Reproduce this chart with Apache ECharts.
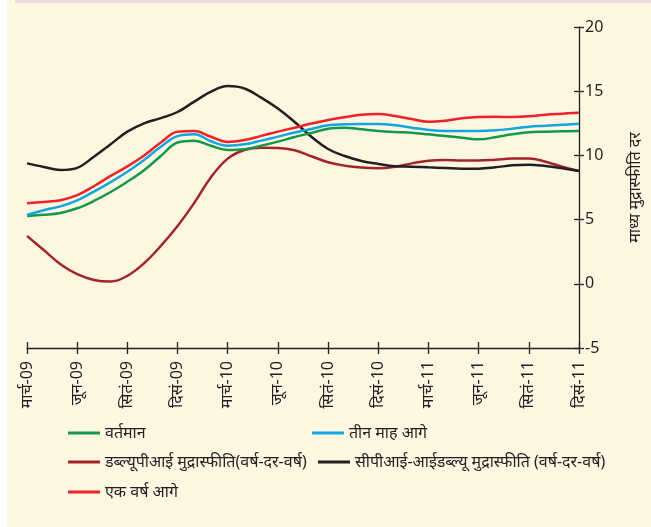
<!DOCTYPE html>
<html>
<head>
<meta charset="utf-8">
<title>मुद्रास्फीति प्रत्याशाएँ</title>
<script src="https://cdn.jsdelivr.net/npm/echarts@6.0.0/dist/echarts.min.js"></script>
<style>
  html, body { margin: 0; padding: 0; background: #ffffff; }
  #chart { width: 651px; height: 527px; }
</style>
</head>
<body>
<div id="chart"></div>
<script>
// monthly, मार्च-09 .. दिसं-11
const months = [
  'मार्च-09', 'अप्रैल-09', 'मई-09', 'जून-09', 'जुलाई-09', 'अग-09', 'सितं-09', 'अक्टू-09', 'नवं-09', 'दिसं-09',
  'जन-10', 'फर-10', 'मार्च-10', 'अप्रैल-10', 'मई-10', 'जून-10', 'जुलाई-10', 'अग-10', 'सितं-10', 'अक्टू-10', 'नवं-10', 'दिसं-10',
  'जन-11', 'फर-11', 'मार्च-11', 'अप्रैल-11', 'मई-11', 'जून-11', 'जुलाई-11', 'अग-11', 'सितं-11', 'अक्टू-11', 'नवं-11', 'दिसं-11'
]

const current = [5.28, 5.37, 5.52, 5.88, 6.45, 7.15, 7.95, 8.85, 9.95, 11.0, 11.15, 10.75,
  10.42, 10.48, 10.75, 11.07, 11.43, 11.75, 12.08, 12.16, 12.03, 11.9,
  11.82, 11.77, 11.64, 11.51, 11.38, 11.25, 11.41, 11.64, 11.8, 11.85, 11.88, 11.9]

const threeMonth = [5.36, 5.73, 6.03, 6.5, 7.18, 7.92, 8.73, 9.64, 10.68, 11.5, 11.65, 11.1,
  10.76, 10.86, 11.15, 11.46, 11.78, 12.06, 12.34, 12.42, 12.45, 12.45,
  12.34, 12.16, 11.98, 11.9, 11.9, 11.9, 11.95, 12.08, 12.24, 12.31, 12.39, 12.47]

const wpi = [3.73, 2.63, 1.53, 0.75, 0.3, 0.18, 0.62, 1.6, 2.95, 4.5, 6.3, 8.3,
  9.75, 10.42, 10.6, 10.58, 10.4, 9.93, 9.47, 9.2, 9.05, 9.0,
  9.12, 9.38, 9.59, 9.64, 9.61, 9.61, 9.67, 9.75, 9.75, 9.51, 9.12, 8.78]

const cpiIw = [9.38, 9.1, 8.86, 9.03, 9.9, 10.87, 11.85, 12.5, 12.9, 13.38, 14.19, 14.96,
  15.4, 15.21, 14.5, 13.65, 12.6, 11.46, 10.5, 9.95, 9.56, 9.33,
  9.15, 9.12, 9.07, 9.02, 8.97, 8.97, 9.07, 9.23, 9.28, 9.17, 9.0, 8.78]

const oneYear = [6.27, 6.37, 6.5, 6.9, 7.6, 8.4, 9.15, 10.0, 11.0, 11.85, 11.9, 11.45,
  11.05, 11.2, 11.52, 11.85, 12.16, 12.48, 12.76, 12.97, 13.17, 13.22,
  13.07, 12.83, 12.62, 12.7, 12.89, 12.99, 13.01, 12.99, 13.04, 13.17, 13.25, 13.33]

const yTicks = { min: -5, max: 20, interval: 5 }

const names = {
  current: 'वर्तमान',
  threeMonth: 'तीन माह आगे',
  wpi: 'डब्ल्यूपीआई मुद्रास्फीति(वर्ष-दर-वर्ष)',
  cpiIw: 'सीपीआई-आईडब्ल्यू मुद्रास्फीति (वर्ष-दर-वर्ष)',
  oneYear: 'एक वर्ष आगे'
}

const axisColor = '#231f20'
const font = "'Noto Sans', 'DejaVu Sans', sans-serif"

function legendAt(name, left, top) {
  return {
    data: [name],
    left: left,
    top: top,
    icon: 'rect',
    itemWidth: 32,
    itemHeight: 3,
    padding: 0,
    textStyle: { color: '#231f20', fontSize: 16, fontFamily: font }
  }
}

function line(name, data, color) {
  return {
    name: name,
    type: 'line',
    data: data,
    smooth: 0.4,
    symbol: 'none',
    lineStyle: { color: color, width: 2.5 },
    itemStyle: { color: color }
  }
}

const chart = echarts.init(document.getElementById('chart'))

chart.setOption({
  backgroundColor: '#fdf7e2',
  animation: false,
  graphic: [
    { type: 'rect', left: 0, top: 0, shape: { width: 7, height: 527 }, style: { fill: '#ffffff' } },
    { type: 'rect', left: 15, top: 0, shape: { width: 636, height: 3 }, style: { fill: '#f0dcdc' } }
  ],
  grid: {
    left: 27,
    right: 70,
    top: 27,
    bottom: 179
  },
  legend: [
    legendAt(names.current, 68, 425),
    legendAt(names.threeMonth, 312, 425),
    legendAt(names.wpi, 68, 454),
    legendAt(names.cpiIw, 318, 454),
    legendAt(names.oneYear, 68, 484)
  ],
  xAxis: [{
    type: 'category',
    data: months,
    boundaryGap: false,
    position: 'bottom',
    axisLine: { onZero: false, lineStyle: { color: axisColor, width: 1.3 } },
    axisTick: { interval: 2, length: 6, lineStyle: { color: axisColor, width: 1.3 } },
    axisLabel: {
      interval: 2,
      rotate: 90,
      margin: 13,
      color: axisColor,
      fontSize: 16,
      fontFamily: font
    },
    splitLine: { show: false }
  }, {
    // inner half of the crossing ticks
    type: 'category',
    data: months,
    boundaryGap: false,
    position: 'bottom',
    axisLine: { show: false, onZero: false },
    axisTick: { interval: 2, inside: true, length: 6, lineStyle: { color: axisColor, width: 1.3 } },
    axisLabel: { show: false },
    splitLine: { show: false }
  }],
  yAxis: [{
    type: 'value',
    position: 'right',
    min: yTicks.min,
    max: yTicks.max,
    interval: yTicks.interval,
    name: 'माध्य मुद्रास्फीति दर',
    nameLocation: 'middle',
    nameRotate: 90,
    nameGap: 48,
    nameTextStyle: { color: axisColor, fontSize: 16, fontFamily: font },
    axisLine: { show: true, onZero: false, lineStyle: { color: axisColor, width: 1.3 } },
    axisTick: { show: true, length: 5, lineStyle: { color: axisColor, width: 1.3 } },
    axisLabel: { color: axisColor, fontSize: 16, margin: 6, fontFamily: font },
    splitLine: { show: false }
  }, {
    type: 'value',
    position: 'right',
    min: yTicks.min,
    max: yTicks.max,
    interval: yTicks.interval,
    axisLine: { show: false, onZero: false },
    axisTick: { show: true, inside: true, length: 5, lineStyle: { color: axisColor, width: 1.3 } },
    axisLabel: { show: false },
    splitLine: { show: false }
  }],
  series: [
    line(names.wpi, wpi, '#a3252a'),
    line(names.cpiIw, cpiIw, '#231f20'),
    line(names.current, current, '#14994a'),
    line(names.threeMonth, threeMonth, '#12a5e0'),
    line(names.oneYear, oneYear, '#ee2229')
  ]
})
</script>
</body>
</html>
